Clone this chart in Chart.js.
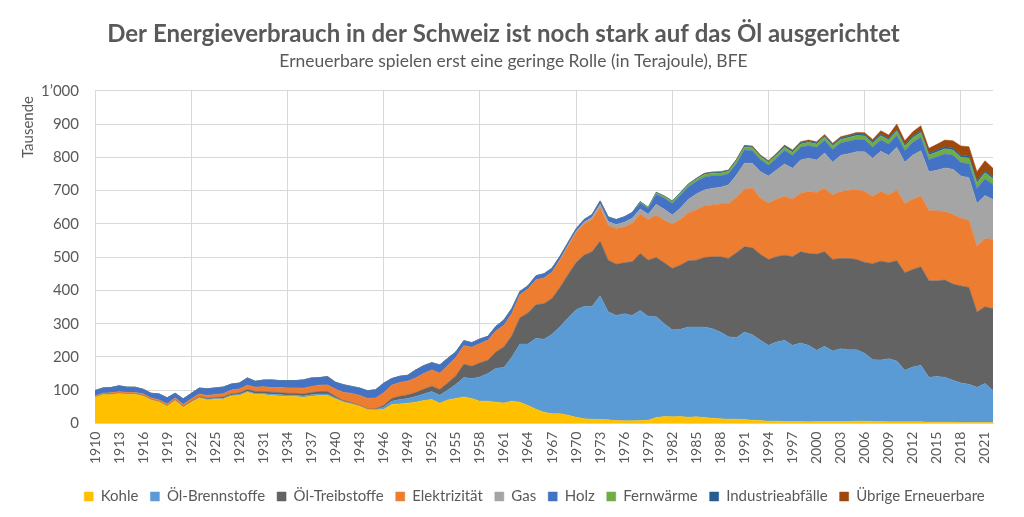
<!DOCTYPE html>
<html lang="de">
<head>
<meta charset="utf-8">
<title>Energieverbrauch Schweiz</title>
<script src="https://cdn.jsdelivr.net/npm/chart.js@4.4.1/dist/chart.umd.min.js"></script>
<style>
  html, body { margin: 0; padding: 0; background: #fff; }
  #wrap { width: 1024px; height: 517px; }
</style>
</head>
<body>
<div id="wrap"><canvas id="chart" width="1024" height="517"></canvas></div>
<script>
// Jahre (Kategorien)
const YEARS = [
  "1910","1911","1912","1913","1914","1915","1916","1917","1918","1919",
  "1920","1921","1922","1923","1924","1925","1926","1927","1928","1929",
  "1930","1931","1932","1933","1934","1935","1936","1937","1938","1939",
  "1940","1941","1942","1943","1944","1945","1946","1947","1948","1949",
  "1950","1951","1952","1953","1954","1955","1956","1957","1958","1959",
  "1960","1961","1962","1963","1964","1965","1966","1967","1968","1969",
  "1970","1971","1972","1973","1974","1975","1976","1977","1978","1979",
  "1980","1981","1982","1983","1984","1985","1986","1987","1988","1989",
  "1990","1991","1992","1993","1994","1995","1996","1997","1998","1999",
  "2000","2001","2002","2003","2004","2005","2006","2007","2008","2009",
  "2010","2011","2012","2013","2014","2015","2016","2017","2018","2019",
  "2020","2021","2022"
];

// Werte in Tausend Terajoule
const KOHLE = [
  79, 87, 87, 90, 88, 88, 83, 71, 65, 52,
  69, 49, 64, 77, 71, 73, 74, 83, 84, 94,
  87, 87, 84, 83, 81, 81, 79, 82, 84, 84,
  74, 64, 59, 52, 42, 41, 42, 57, 59, 61,
  64, 69, 72, 61, 71, 75, 80, 75, 67, 67,
  64, 62, 67, 64, 54, 43, 34, 29, 29, 25,
  19, 14, 13, 12, 11, 9, 8, 8, 9, 10,
  18, 21, 20, 21, 19, 20, 18, 16, 14, 13,
  13, 12, 10, 9, 7, 7, 6, 6, 6, 5,
  6, 6, 6, 6, 6, 7, 7, 6, 6, 5,
  5, 5, 5, 5, 4, 4, 4, 4, 3, 3,
  3, 3, 3
];
const OEL_BRENN = [
  0.5, 0.5, 0.5, 0.5, 0.5, 0.5, 0.5, 0.5, 0.5, 0.5,
  1, 1, 1, 1.5, 2, 2, 2, 2.5, 3, 3,
  3.5, 3.5, 4, 4, 4, 4, 4, 4.5, 5, 5,
  3, 2, 1.5, 1, 0.5, 1, 7, 10, 13, 14,
  17, 20, 24, 24, 30, 42, 58, 60, 73, 83,
  102, 106, 133, 175, 185, 213, 219, 239, 262, 292,
  323, 338, 339, 372, 325, 316, 322, 317, 331, 312,
  303, 279, 262, 262, 271, 270, 272, 269, 261, 248,
  245, 263, 257, 241, 228, 238, 244, 229, 236, 230,
  214, 226, 212, 219, 216, 215, 204, 186, 185, 190,
  183, 155, 165, 170, 135, 137, 135, 126, 119, 115,
  106, 117, 96
];
const OEL_TREIB = [
  0.5, 0.5, 0.7, 0.8, 0.8, 0.6, 0.6, 0.4, 0.3, 0.8,
  1, 1.2, 1.5, 2, 2.5, 3, 3.5, 4, 4.5, 5,
  5.5, 6, 6, 6, 6, 6, 6, 6.5, 7, 7,
  4, 2.5, 2, 1.5, 1, 1.5, 5, 8, 10, 11,
  12, 14, 16, 17, 21, 26, 40, 37, 42, 40,
  49, 62, 64, 79, 93, 101, 107, 108, 118, 130,
  141, 154, 164, 164, 155, 154, 153, 161, 171, 169,
  178, 183, 184, 193, 199, 201, 209, 216, 226, 235,
  255, 256, 261, 258, 258, 256, 256, 266, 274, 276,
  289, 284, 275, 271, 274, 271, 273, 288, 297, 288,
  301, 293, 293, 296, 290, 288, 292, 289, 291, 291,
  226, 231, 246
];
const ELEKTRIZITAET = [
  3, 3, 4, 4, 4, 4, 5, 5, 5, 5,
  6, 6, 7, 8, 9, 9, 10, 11, 12, 13,
  13, 14, 14, 15, 16, 16, 17, 18, 19, 20,
  22, 25, 28, 30, 32, 33, 38, 40, 41, 41,
  44, 47, 49, 49, 52, 55, 56, 57, 58, 60,
  63, 65, 67, 69, 72, 75, 77, 79, 82, 86,
  90, 94, 97, 101, 104, 107, 108, 115, 119, 122,
  127, 128, 133, 137, 144, 151, 155, 156, 159, 164,
  167, 173, 179, 169, 169, 173, 176, 173, 176, 186,
  185, 191, 194, 201, 204, 210, 213, 202, 209, 204,
  213, 208, 211, 213, 211, 210, 206, 209, 204, 201,
  198, 205, 208
];
const GAS = [
  0, 0, 0, 0, 0, 0, 0, 0, 0, 0,
  0, 0, 0, 0, 0, 0, 0, 0, 0, 0,
  0, 0, 0, 0, 0, 0, 0, 0, 0, 0,
  0, 0, 0, 0, 0, 0, 0, 0, 0, 0,
  0, 0, 0, 0, 0, 0, 0, 0, 0, 0,
  0, 0, 0, 0, 0, 0, 0, 0, 2, 3,
  4, 5, 7, 10, 12, 12, 14, 16, 15, 16,
  33, 33, 28, 34, 41, 48, 48, 50, 50, 57,
  67, 78, 75, 80, 82, 88, 98, 93, 100, 100,
  98, 106, 98, 109, 111, 114, 120, 115, 121, 119,
  128, 124, 133, 136, 117, 122, 131, 136, 127, 129,
  128, 129, 120
];
const HOLZ = [
  16, 16, 16, 18, 16, 16, 14, 14, 18, 19,
  14, 17, 17, 18, 20, 20, 20, 18, 18, 22,
  18, 20, 23, 21, 22, 22, 25, 26, 23, 25,
  21, 23, 21, 22, 23, 25, 29, 20, 19, 18,
  24, 24, 22, 25, 22, 17, 15, 14, 14, 12,
  14, 16, 15, 10, 10, 12, 13, 12, 10, 8,
  8, 8, 8, 10, 14, 15, 16, 17, 18, 17,
  29, 33, 34, 39, 37, 37.5, 38.5, 37.5, 35, 33,
  33.5, 40, 38, 36, 32, 35, 40.5, 38.5, 38, 38,
  38, 37.5, 38.5, 37, 37, 37, 35, 33, 34, 33,
  36, 35, 38, 40, 36, 40, 42, 42, 40, 42,
  45, 50, 45
];
const FERNWAERME = [
  0, 0, 0, 0, 0, 0, 0, 0, 0, 0,
  0, 0, 0, 0, 0, 0, 0, 0, 0, 0,
  0, 0, 0, 0, 0, 0, 0, 0, 0, 0,
  0, 0, 0, 0, 0, 0, 0, 0, 0, 0,
  0, 0, 0, 0, 0, 0, 0, 0, 0, 0,
  0, 0, 0, 0, 0, 0, 0, 0, 0, 0,
  0, 0, 0, 0, 0, 0, 0, 0, 3, 3,
  5, 5, 6, 6, 7, 7, 8, 8, 8, 8,
  9, 9, 9, 9, 9, 10, 10, 10, 10, 10,
  10, 11, 11, 11, 12, 12, 12, 12, 13, 13,
  14, 13, 14, 15, 14, 15, 16, 16, 16, 17,
  17, 19, 18
];
const INDUSTRIEABFAELLE = [
  0, 0, 0, 0, 0, 0, 0, 0, 0, 0,
  0, 0, 0, 0, 0, 0, 0, 0, 0, 0,
  0, 0, 0, 0, 0, 0, 0, 0, 0, 0,
  0, 0, 0, 0, 0, 0, 0, 0, 0, 0,
  0, 0, 0, 0, 0, 0, 0, 0, 0, 0,
  0, 0, 0, 0, 0, 0, 0, 0, 0, 0,
  0, 0, 0, 0, 0, 0, 0, 0, 1, 1,
  2, 2, 2, 2, 2, 2, 3, 3, 3, 3,
  3, 3, 3, 3, 3, 3, 4, 4, 4, 4,
  4, 4, 4, 4, 4, 5, 5, 5, 5, 5,
  5, 5, 5, 5, 5, 6, 6, 6, 6, 6,
  6, 6, 6
];
const UEBRIGE = [
  0, 0, 0, 0, 0, 0, 0, 0, 0, 0,
  0, 0, 0, 0, 0, 0, 0, 0, 0, 0,
  0, 0, 0, 0, 0, 0, 0, 0, 0, 0,
  0, 0, 0, 0, 0, 0, 0, 0, 0, 0,
  0, 0, 0, 0, 0, 0, 0, 0, 0, 0,
  0, 0, 0, 0, 0, 0, 0, 0, 0, 0,
  0, 0, 0, 0, 0, 0, 0, 0, 0, 0,
  0, 0, 0, 0, 0, 0.5, 0.5, 0.5, 1, 1,
  1.5, 2, 2, 2, 2, 2, 2.5, 2.5, 3, 3,
  3, 3.5, 3.5, 4, 4, 4, 5, 7, 10, 10,
  15, 12, 13, 15, 15, 17, 20, 22, 28, 28,
  28, 30, 25
];

const SERIES_NAMES = [
  "Kohle", "Öl-Brennstoffe", "Öl-Treibstoffe", "Elektrizität", "Gas",
  "Holz", "Fernwärme", "Industrieabfälle", "Übrige Erneuerbare"
];
const SERIES_COLORS = [
  "#ffc000", "#5b9bd5", "#636363", "#ed7d31", "#a5a5a5",
  "#4472c4", "#70ad47", "#255e91", "#9e480e"
];
const SERIES_DATA = [
  KOHLE, OEL_BRENN, OEL_TREIB, ELEKTRIZITAET, GAS,
  HOLZ, FERNWAERME, INDUSTRIEABFAELLE, UEBRIGE
];

const Y_TICKS = [0, 100, 200, 300, 400, 500, 600, 700, 800, 900, 1000];

const TITLE = "Der Energieverbrauch in der Schweiz ist noch stark auf das Öl ausgerichtet";
const SUBTITLE = "Erneuerbare spielen erst eine geringe Rolle (in Terajoule), BFE";

const TEXT = "#595959";
const GRID = "#d9d9d9";
const FONT = "Lato, 'Open Sans', sans-serif";

/* ------------------------------------------------------------
 * "Tausende" oben links neben der y-Achse
 * ------------------------------------------------------------ */
const unitLabel = {
  id: "unitLabel",
  afterDraw(chart) {
    const ctx = chart.ctx;
    ctx.save();
    ctx.translate(28, 127);
    ctx.rotate(-Math.PI / 2);
    ctx.fillStyle = TEXT;
    ctx.font = "15px " + FONT;
    ctx.textAlign = "center";
    ctx.textBaseline = "middle";
    ctx.fillText("Tausende", 0, 0);
    ctx.restore();
  },
};

// Titel, Untertitel und Legende stehen im Original nicht ganz mittig
const nudgeBoxes = {
  id: "nudgeBoxes",
  afterLayout(chart) {
    chart.boxes.forEach((b) => {
      let dx = 0;
      if (b === chart.legend) dx = 38;
      else if (b.options && b.options.text === TITLE) dx = 7;
      else if (b.options && b.options.text === SUBTITLE) dx = 17;
      if (dx) {
        b.left += dx;
        b.right += dx;
      }
    });
  },
};

const datasets = SERIES_NAMES.map((name, i) => ({
  label: name,
  data: SERIES_DATA[i],
  backgroundColor: SERIES_COLORS[i],
  borderColor: SERIES_COLORS[i],
  borderWidth: 0.5,
  fill: i === 0 ? "origin" : "-1",
  pointRadius: 0,
  pointHoverRadius: 0,
  tension: 0,
}));

const ctx = document.getElementById("chart").getContext("2d");

new Chart(ctx, {
  type: "line",
  data: { labels: YEARS, datasets },
  plugins: [unitLabel, nudgeBoxes],
  options: {
    responsive: false,
    animation: false,
    layout: { padding: { left: 0, right: 31, top: 0, bottom: 3 } },
    plugins: {
      title: {
        display: true,
        text: TITLE,
        color: TEXT,
        font: { family: FONT, size: 24, weight: "bold" },
        padding: { top: 20, bottom: 2 },
      },
      subtitle: {
        display: true,
        text: SUBTITLE,
        color: TEXT,
        font: { family: FONT, size: 17.5 },
        padding: { top: 0, bottom: 19 },
      },
      legend: {
        position: "bottom",
        labels: {
          color: TEXT,
          font: { family: FONT, size: 15 },
          boxWidth: 9,
          boxHeight: 9,
          padding: 12,
        },
      },
      tooltip: { enabled: false },
    },
    scales: {
      x: {
        afterFit: (scale) => { scale.height += 5; },
        grid: {
          color: (c) => (c.index % 12 === 0 ? GRID : "rgba(0,0,0,0)"),
          drawTicks: false,
        },
        border: { color: GRID },
        ticks: {
          color: TEXT,
          font: { family: FONT, size: 14 },
          autoSkip: false,
          maxRotation: 90,
          minRotation: 90,
          padding: 8,
          callback: function (value, index) {
            return index % 3 === 0 ? this.getLabelForValue(value) : "";
          },
        },
      },
      y: {
        stacked: true,
        min: 0,
        max: 1000,
        afterFit: (scale) => { scale.width = 95; },
        afterBuildTicks: (scale) => {
          scale.ticks = Y_TICKS.map((v) => ({ value: v }));
        },
        grid: { color: GRID, drawTicks: false },
        border: { display: false },
        ticks: {
          color: TEXT,
          font: { family: FONT, size: 15 },
          padding: 16,
          callback: (v) => (v === 1000 ? "1’000" : String(v)),
        },
      },
    },
  },
});
</script>
</body>
</html>
